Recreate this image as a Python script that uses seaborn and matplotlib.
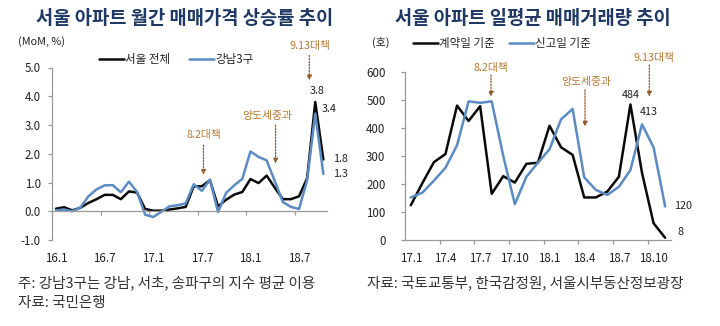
import numpy as np
import pandas as pd
import matplotlib
matplotlib.use("Agg")
import matplotlib.pyplot as plt
import seaborn as sns
from matplotlib.ticker import FixedLocator

# ---------------- data ----------------
# Left chart: monthly price change (MoM, %), 16.1 - 18.10
months_left = ["16.1", "16.2", "16.3", "16.4", "16.5", "16.6", "16.7", "16.8", "16.9", "16.10", "16.11", "16.12",
               "17.1", "17.2", "17.3", "17.4", "17.5", "17.6", "17.7", "17.8", "17.9", "17.10", "17.11", "17.12",
               "18.1", "18.2", "18.3", "18.4", "18.5", "18.6", "18.7", "18.8", "18.9", "18.10"]
seoul_all = [0.09, 0.14, 0.03, 0.12, 0.29, 0.42, 0.57, 0.57, 0.42, 0.69, 0.65, 0.08,
             0.02, 0.02, 0.06, 0.10, 0.15, 0.87, 0.87, 1.08, 0.17, 0.40, 0.58, 0.67,
             1.12, 0.98, 1.24, 0.82, 0.42, 0.42, 0.52, 1.15, 3.8, 1.8]
gangnam3 = [0.03, 0.06, 0.00, 0.13, 0.52, 0.76, 0.90, 0.91, 0.66, 1.03, 0.67, -0.12,
            -0.20, -0.02, 0.17, 0.21, 0.27, 0.94, 0.71, 1.10, -0.03, 0.64, 0.90, 1.13,
            2.08, 1.89, 1.77, 1.05, 0.32, 0.15, 0.08, 1.08, 3.4, 1.3]
left_tick_labels = ["16.1", "16.7", "17.1", "17.7", "18.1", "18.7"]
left_series = ["서울 전체", "강남3구"]

# Right chart: daily average transactions, 17.1 - 18.11
months_right = ["17.1", "17.2", "17.3", "17.4", "17.5", "17.6", "17.7", "17.8", "17.9", "17.10", "17.11", "17.12",
                "18.1", "18.2", "18.3", "18.4", "18.5", "18.6", "18.7", "18.8", "18.9", "18.10", "18.11"]
contract_basis = [124, 203, 278, 307, 480, 425, 478, 165, 228, 205, 272, 276,
                  408, 331, 304, 152, 152, 173, 226, 484, 240, 60, 8]
report_basis = [152, 169, 212, 258, 338, 495, 490, 495, 300, 128, 226, 276,
                324, 431, 468, 224, 179, 161, 190, 250, 413, 331, 120]
right_tick_labels = ["17.1", "17.4", "17.7", "17.10", "18.1", "18.4", "18.7", "18.10"]
right_series = ["계약일 기준", "신고일 기준"]

# ---------------- style ----------------
sns.set_theme(style="white")
plt.rcParams["font.family"] = ["Noto Sans CJK KR", "DejaVu Sans"]
plt.rcParams["axes.unicode_minus"] = False

BLACK = "#0a0a0a"
BLUE = "#5B8BC3"
AXIS = "#9a9a9a"
TITLE = "#1F3864"
ANN_TXT = "#B87A35"
ANN_ARR = "#8C5A2B"
TXT = "#222222"

fig = plt.figure(figsize=(7.2, 3.26), dpi=100)
W, H = 720.0, 326.0

def px_axes(l, t, r, b):
    return fig.add_axes([l / W, (H - b) / H, (r - l) / W, (b - t) / H])

ax1 = px_axes(52, 67.5, 327.4, 240)
ax2 = px_axes(405, 72, 670.9, 240)

# ---------------- left chart ----------------
df_l = pd.DataFrame({"idx": np.arange(len(months_left)), left_series[0]: seoul_all, left_series[1]: gangnam3})
df_l = df_l.melt(id_vars="idx", var_name="series", value_name="val")
sns.lineplot(data=df_l, x="idx", y="val", hue="series", hue_order=left_series,
             palette=[BLACK, BLUE], linewidth=1.8, ax=ax1, legend=False)
ax1.set_xlim(-0.5, len(months_left) - 0.5)
ax1.set_ylim(-1, 5)
ax1.set_xlabel(""); ax1.set_ylabel("")
for s in ["top", "right"]:
    ax1.spines[s].set_visible(False)
ax1.spines["bottom"].set_position(("data", 0))
for s in ["left", "bottom"]:
    ax1.spines[s].set_color(AXIS)
    ax1.spines[s].set_linewidth(0.9)
ax1.set_yticks(np.arange(-1, 5.01, 1))
ax1.set_yticklabels([f"{v:.1f}" for v in np.arange(-1, 5.01, 1)])
lpos = [months_left.index(m) for m in left_tick_labels]
ax1.set_xticks(lpos)
ax1.set_xticklabels(left_tick_labels)
ax1.xaxis.set_minor_locator(FixedLocator(np.arange(5.5, len(months_left) - 1, 6)))
ax1.tick_params(axis="x", which="major", length=0, pad=29.5, labelsize=8.3, labelcolor=TXT)
ax1.tick_params(axis="x", which="minor", length=3, width=0.9, color=AXIS, direction="out", bottom=True)
ax1.tick_params(axis="y", length=3, width=0.9, color=AXIS, direction="out", pad=5, labelsize=8.3,
                labelcolor=TXT, left=True)

# data labels
n = len(months_left) - 1
ax1.annotate("3.8", (n - 1, seoul_all[n - 1]), xytext=(1, 4), textcoords="offset points",
             ha="center", va="bottom", fontsize=7.8, color=TXT)
ax1.annotate("3.4", (n - 1, gangnam3[n - 1]), xytext=(10, 3), textcoords="offset points",
             ha="center", va="center", fontsize=7.8, color=TXT)
ax1.annotate("1.8", (n, seoul_all[n]), xytext=(12, 0), textcoords="offset points",
             ha="center", va="center", fontsize=7.8, color=TXT, annotation_clip=False)
ax1.annotate("1.3", (n, gangnam3[n]), xytext=(12, 0), textcoords="offset points",
             ha="center", va="center", fontsize=7.8, color=TXT, annotation_clip=False)

def policy(ax, text, tx, ty, ax_x, y0, y1):
    ax.annotate("", xy=(ax_x, y1), xytext=(ax_x, y0),
                arrowprops=dict(arrowstyle="-|>", color=ANN_ARR, lw=0.9, linestyle=(0, (1.2, 1.2)),
                                mutation_scale=7, shrinkA=0, shrinkB=0),
                annotation_clip=False)
    ax.text(tx, ty, text, ha="center", va="center", fontsize=7.8, color=ANN_TXT, clip_on=False)

policy(ax1, "8.2대책", 18.2, 2.64, 18.2, 2.29, 1.27)
policy(ax1, "양도세중과", 26.1, 3.33, 27.1, 2.99, 1.66)
policy(ax1, "9.13대책", 31.3, 5.76, 31.27, 5.42, 4.55)

h1 = [plt.Line2D([], [], color=BLACK, lw=1.8), plt.Line2D([], [], color=BLUE, lw=1.8)]
ax1.legend(h1, left_series, loc="center", bbox_to_anchor=(0.45, 1.045), ncol=2, frameon=False,
           fontsize=8.3, handlelength=2.2, handletextpad=0.1, columnspacing=1.6, borderaxespad=0,
           labelcolor=TXT)

# ---------------- right chart ----------------
df_r = pd.DataFrame({"idx": np.arange(len(months_right)), right_series[0]: contract_basis,
                     right_series[1]: report_basis})
df_r = df_r.melt(id_vars="idx", var_name="series", value_name="val")
sns.lineplot(data=df_r, x="idx", y="val", hue="series", hue_order=right_series,
             palette=[BLACK, BLUE], linewidth=1.8, ax=ax2, legend=False)
ax2.set_xlim(-0.5, len(months_right) - 0.5)
ax2.set_ylim(0, 600)
ax2.set_xlabel(""); ax2.set_ylabel("")
for s in ["top", "right"]:
    ax2.spines[s].set_visible(False)
for s in ["left", "bottom"]:
    ax2.spines[s].set_color(AXIS)
    ax2.spines[s].set_linewidth(0.9)
ax2.set_yticks(np.arange(0, 601, 100))
rpos = [months_right.index(m) for m in right_tick_labels]
ax2.set_xticks(rpos)
ax2.set_xticklabels(right_tick_labels)
ax2.xaxis.set_minor_locator(FixedLocator(np.arange(2.5, len(months_right) - 1, 3)))
ax2.tick_params(axis="x", which="major", length=0, pad=8.5, labelsize=8.3, labelcolor=TXT)
ax2.tick_params(axis="x", which="minor", length=3, width=0.9, color=AXIS, direction="out", bottom=True)
ax2.tick_params(axis="y", length=3, width=0.9, color=AXIS, direction="out", pad=11, labelsize=8.3,
                labelcolor=TXT, left=True)

m = len(months_right) - 1
ax2.annotate("484", (m - 3, contract_basis[m - 3]), xytext=(0, 3), textcoords="offset points",
             ha="center", va="bottom", fontsize=7.8, color=TXT)
ax2.annotate("413", (m - 2, report_basis[m - 2]), xytext=(5, 5), textcoords="offset points",
             ha="center", va="bottom", fontsize=7.8, color=TXT)
ax2.annotate("120", (m, report_basis[m]), xytext=(13, 0), textcoords="offset points",
             ha="center", va="center", fontsize=7.8, color=TXT, annotation_clip=False)
ax2.annotate("8", (m, contract_basis[m]), xytext=(11, 4.5), textcoords="offset points",
             ha="center", va="center", fontsize=7.8, color=TXT, annotation_clip=False)

policy(ax2, "8.2대책", 6.94, 613, 6.94, 589, 512)
policy(ax2, "양도세중과", 15.16, 565, 15.07, 536, 405)
policy(ax2, "9.13대책", 21.04, 649, 20.63, 625, 512)

h2 = [plt.Line2D([], [], color=BLACK, lw=1.8), plt.Line2D([], [], color=BLUE, lw=1.8)]
ax2.legend(h2, right_series, loc="center", bbox_to_anchor=(0.365, 1.17), ncol=2, frameon=False,
           fontsize=8.3, handlelength=2.2, handletextpad=0.1, columnspacing=1.2, borderaxespad=0,
           labelcolor=TXT)

# ---------------- titles, units, notes ----------------
fig.text(185 / W, 1 - 18 / H, "서울 아파트 월간 매매가격 상승률 추이", ha="center", va="center",
         fontsize=13.5, fontweight="bold", color=TITLE)
fig.text(533 / W, 1 - 18 / H, "서울 아파트 일평균 매매거래량 추이", ha="center", va="center",
         fontsize=13.5, fontweight="bold", color=TITLE)
fig.text(18 / W, 1 - 42 / H, "(MoM, %)", ha="left", va="center", fontsize=7.8, color=TXT)
fig.text(372 / W, 1 - 42 / H, "(호)", ha="left", va="center", fontsize=7.8, color=TXT)
fig.text(18 / W, 1 - 283 / H, "주: 강남3구는 강남, 서초, 송파구의 지수 평균 이용", ha="left", va="center",
         fontsize=10.5, color="#333333")
fig.text(18 / W, 1 - 303 / H, "자료: 국민은행", ha="left", va="center", fontsize=10.5, color="#333333")
fig.text(367 / W, 1 - 283 / H, "자료: 국토교통부, 한국감정원, 서울시부동산정보광장", ha="left", va="center",
         fontsize=10.5, color="#333333")

fig.savefig("out.png", dpi=100)
